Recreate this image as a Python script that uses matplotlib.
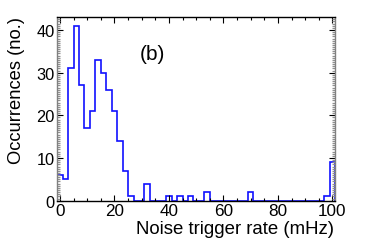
import numpy as np
import matplotlib
matplotlib.use("Agg")
import matplotlib.pyplot as plt

plt.rcParams['font.family'] = ['Liberation Sans', 'DejaVu Sans']

# bin centers (mHz), 2 mHz wide
bin_centers = list(range(0, 101, 2))
counts = [6, 5, 31, 41, 27, 17, 21, 33, 30, 26,
          21, 14, 7, 1, 0, 0, 4, 0, 0, 0,
          1, 0, 1, 0, 1, 0, 0, 2, 0, 0,
          0, 0, 0, 0, 0, 2, 0, 0, 0, 0,
          0, 0, 0, 0, 0, 0, 0, 0, 0, 1,
          9]
xticks = [0, 20, 40, 60, 80, 100]
yticks = [0, 10, 20, 30, 40]
xlabel = "Noise trigger rate (mHz)"
ylabel = "Occurrences (no.)"
panel = "(b)"

edges = np.concatenate([[bin_centers[0] - 1], np.array(bin_centers) + 1])

fig = plt.figure(figsize=(3.74, 2.53), dpi=100)
ax = fig.add_axes([0.153, 0.203, 0.743, 0.726])
ax.stairs(counts, edges, color='#1010ff', lw=1.2, baseline=0)
ax.set_xlim(-1, 101)
ax.set_ylim(0, 43.05)

ax.set_xticks(xticks)
ax.set_xticks(np.arange(0, 101, 5), minor=True)
ax.set_yticks(yticks)
ax.set_yticks(np.arange(0, 43, 0.5), minor=True)
ax.tick_params(axis='x', which='major', direction='in', length=4.5, width=0.8,
               labelsize=12.3, top=True, pad=1.5)
ax.tick_params(axis='y', which='major', direction='in', length=4.5, width=0.8,
               labelsize=11.8, right=True, pad=2)
ax.tick_params(axis='x', which='minor', direction='in', length=2.2, width=0.8,
               top=True)
ax.tick_params(axis='y', which='minor', direction='in', length=2.2, width=0.9,
               left=True, right=True, color='#909090')
for s in ax.spines.values():
    s.set_linewidth(1.0)
ax.spines['left'].set_color('#808080')
ax.spines['right'].set_color('#808080')

fig.text(334 / 374, 1 - 230 / 253, xlabel, ha='right', va='center', fontsize=13.4)
fig.text(16.5 / 374, 1 - 17 / 253, ylabel, rotation=90, ha='center', va='top', fontsize=13.2)
fig.text(152.5 / 374, 1 - 55 / 253, panel, ha='center', va='center', fontsize=15)

fig.savefig("out.png", dpi=100)
